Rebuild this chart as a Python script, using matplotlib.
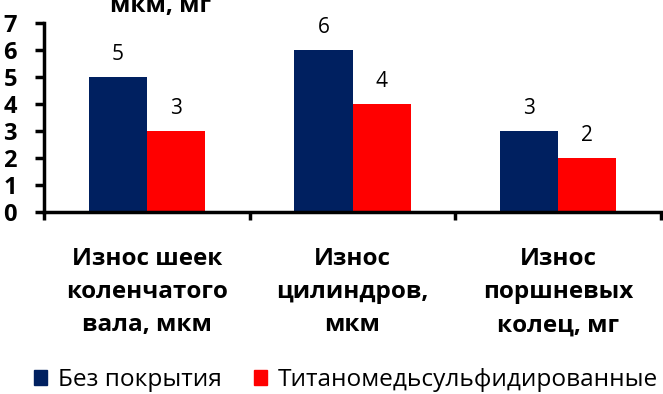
import numpy as np
import matplotlib.pyplot as plt
from matplotlib.patches import Patch

# Data
categories = ['Износ шеек\nколенчатого\nвала, мкм', 'Износ\nцилиндров,\nмкм', 'Износ\nпоршневых\nколец, мг']
uncoated = [5, 6, 3]
coated = [3, 4, 2]
series_names = ['Без покрытия', 'Титаномедьсульфидированные']
y_ticks = [0, 1, 2, 3, 4, 5, 6, 7]

navy = '#002060'
red = '#FF0000'

plt.rcParams['font.family'] = ['Open Sans', 'DejaVu Sans']

fig = plt.figure(figsize=(6.63, 3.94), dpi=100)
ax = fig.add_axes([44/663, 1 - 212/394, (661 - 44)/663, (212 - 23)/394])

x = np.arange(len(categories))
w = 0.283
b1 = ax.bar(x - w/2, uncoated, w, color=navy)
b2 = ax.bar(x + w/2, coated, w, color=red)
for bars in (b1, b2):
    ax.bar_label(bars, padding=8.5, fontsize=15, color='black')

ax.set_xlim(-0.5, len(categories) - 0.5)
ax.set_ylim(0, 7)
ax.set_yticks(y_ticks)
ax.set_yticklabels([str(v) for v in y_ticks], fontsize=17, fontweight='bold')
ax.tick_params(axis='y', length=6.5, width=2.5, pad=13)

ax.set_xticks(x)
ax.set_xticklabels(categories, fontsize=17.5, fontweight='bold', linespacing=1.52)
ax.tick_params(axis='x', which='major', length=0, pad=25)
ax.set_xticks(np.arange(-0.5, len(categories)), minor=True)
ax.tick_params(axis='x', which='minor', length=6, width=2.5, direction='out')

for s in ['top', 'right']:
    ax.spines[s].set_visible(False)
for s in ['left', 'bottom']:
    ax.spines[s].set_linewidth(2.5)

# axis title, cut off at the top edge in the original
fig.text(160/663, 1 - 12/394, 'мкм, мг', fontsize=17.5, fontweight='bold',
         ha='center', va='baseline')

handles = [Patch(color=navy), Patch(color=red)]
fig.legend(handles, series_names, loc='center', bbox_to_anchor=(0.522, 1 - 380/394),
           ncol=2, frameon=False, fontsize=17.6, handlelength=0.5, handleheight=0.6,
           handletextpad=0.45, columnspacing=1.35, borderpad=0)

fig.savefig('out.png', dpi=100)
